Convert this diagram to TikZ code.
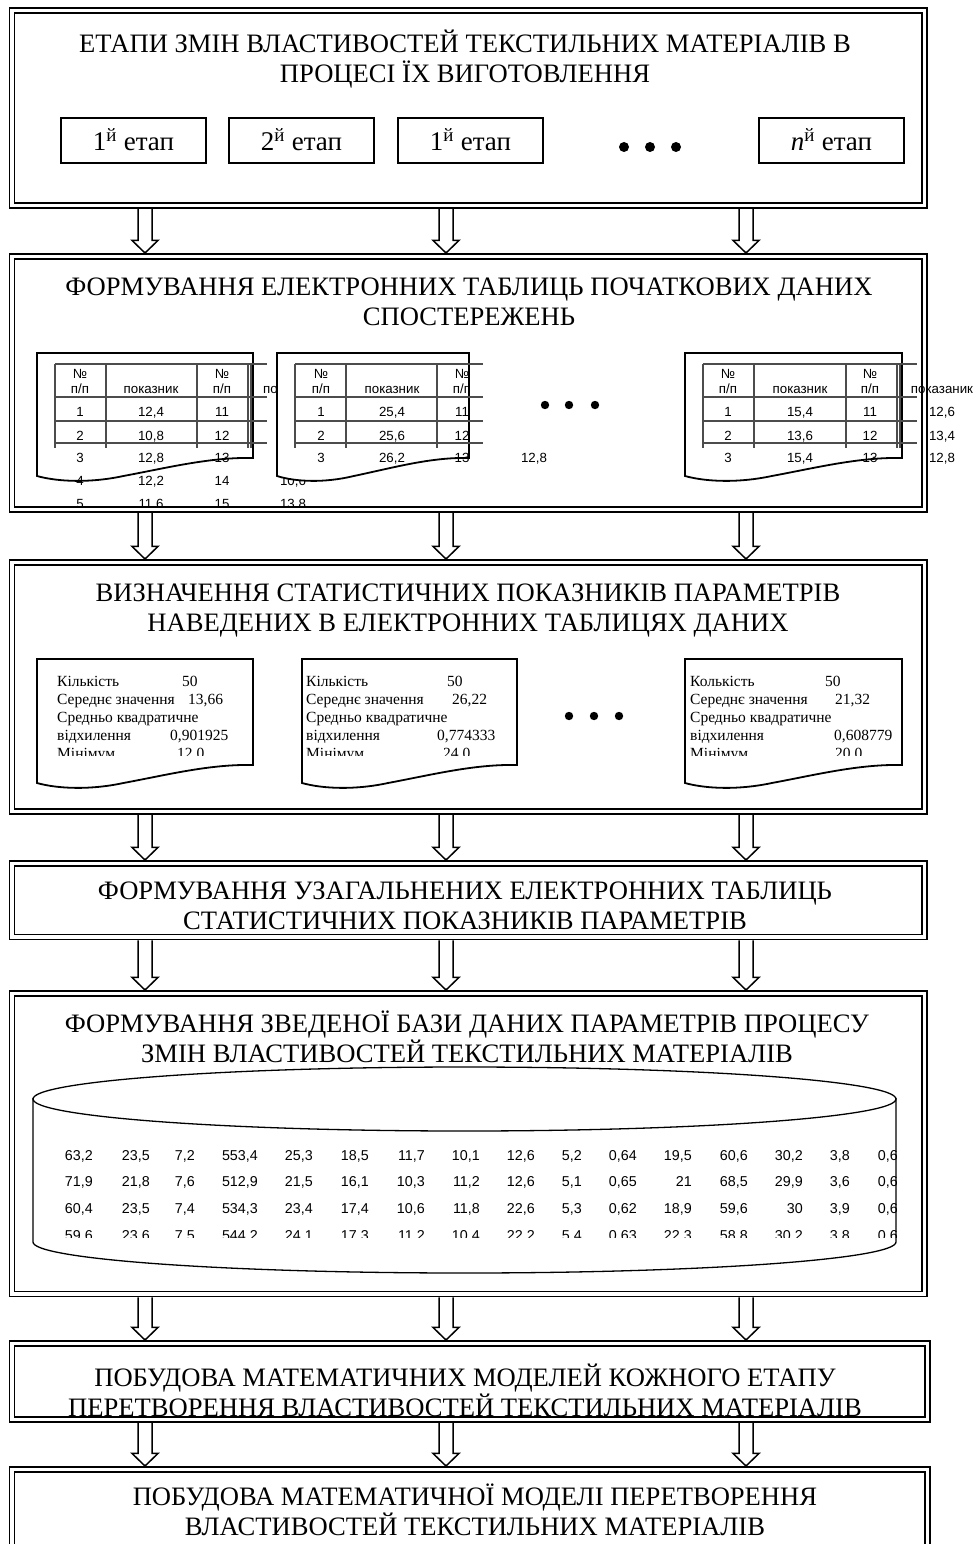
\documentclass[tikz,border=0pt]{standalone}
\usepackage{fontspec}
\setmainfont{Liberation Serif}
\newfontfamily\sansf{Liberation Sans}
\usetikzlibrary{calc}
\newcommand\docsheet[4]{%
  \path[sheet] (#1,#3) -- (#2,#3) -- (#2,#4)
    .. controls ({#2-0.2*(#2-#1)},{#4-1}) and ({#1+0.6*(#2-#1)},{#4+10}) .. ({#1+0.4*(#2-#1)},{#4+18})
    .. controls ({#1+0.25*(#2-#1)},{#4+25}) and ({#1+0.1*(#2-#1)},{#4+24}) .. (#1,{#4+18}) -- cycle;}
\def\dbcols{{93,150,195,258,313,369,425,480,535,582,637,692,748,803,850,906}}
\begin{document}
\begin{tikzpicture}[x=1pt,y=-1pt,
  bigbox/.style={draw, double, double distance=3.2pt, line width=1.8pt, inner sep=0pt, outer sep=0pt, anchor=north west},
  stagebox/.style={draw, line width=1.8pt, minimum width=145pt, minimum height=45pt, inner sep=0pt,
    font=\fontsize{27}{30}\selectfont, text height=20pt, text depth=0pt},
  titletext/.style={align=center, font=\fontsize{26.6}{30}\selectfont, inner sep=0pt, anchor=base},
  sheet/.style={draw, line width=1.8pt, fill=white, line join=miter},
  tgrid/.style={draw=black!70, line width=1.1pt},
  tcell/.style={font=\sansf\fontsize{13.3}{14}\selectfont, inner sep=0pt, anchor=base},
  statline/.style={font=\fontsize{15.5}{18}\selectfont, inner sep=0pt, anchor=base west},
  dbnum/.style={font=\sansf\fontsize{14.3}{15}\selectfont, inner sep=0pt, anchor=base east},
  bigdot/.style={fill=black},
  blockarr/.style={draw, line width=1.5pt, to path={let \p1=(\tikztostart), \p2=(\tikztotarget) in
    (\x1-7pt,\y1-3.4pt) -- (\x1-7pt,\y2+16pt) -- (\x1-13pt,\y2+16pt) -- (\x1,\y2+3.4pt)
    -- (\x1+13pt,\y2+16pt) -- (\x1+7pt,\y2+16pt) -- (\x1+7pt,\y1-3.4pt)}}
]
\clip (0,0) rectangle (976,1544);
\fill[white] (0,0) rectangle (976,1544);
\coordinate (c1) at (145,0);
\coordinate (c2) at (446,0);
\coordinate (c3) at (746,0);

% ---------- main boxes
\node[bigbox, minimum width=912.6pt, minimum height=195.2pt] (b1) at (12,10.4) {};
\node[bigbox, minimum width=912.6pt, minimum height=253.2pt] (b2) at (12,256.4) {};
\node[bigbox, minimum width=912.6pt, minimum height=249.2pt] (b3) at (12,562.4) {};
\node[bigbox, minimum width=912.6pt, minimum height=73.6pt] (b4) at (12,863.4) {};
\node[bigbox, minimum width=912.6pt, minimum height=300.6pt] (b5) at (12,993.4) {};
\node[bigbox, minimum width=915.6pt, minimum height=76.2pt] (b6) at (12,1343.4) {};
\node[bigbox, minimum width=915.6pt, minimum height=150pt] (b7) at (12,1469.4) {};

% ---------- arrows
\foreach \a/\b in {b1/b2,b2/b3,b3/b4,b4/b5,b5/b6,b6/b7}
  \foreach \cc in {c1,c2,c3}
    \draw[blockarr] (\a.south -| \cc) to (\b.north -| \cc);

% ---------- box 1
\node[titletext] (t1) at (465,83) {ЕТАПИ ЗМІН ВЛАСТИВОСТЕЙ ТЕКСТИЛЬНИХ МАТЕРІАЛІВ В\\ПРОЦЕСІ ЇХ ВИГОТОВЛЕННЯ};
\node[stagebox] (s1) at (133.5,140.5) {1\textsuperscript{й} етап};
\node[stagebox] (s2) at (301.5,140.5) {2\textsuperscript{й} етап};
\node[stagebox] (s3) at (470.5,140.5) {1\textsuperscript{й} етап};
\node[stagebox] (s4) at (831.5,140.5) {\textit{n}\textsuperscript{й} етап};
\fill[bigdot] (624,147) circle (5pt) (650,147) circle (5pt) (676,147) circle (5pt);

% ---------- box 2
\node[titletext] (t2) at (469,325) {ФОРМУВАННЯ ЕЛЕКТРОННИХ ТАБЛИЦЬ ПОЧАТКОВИХ ДАНИХ\\СПОСТЕРЕЖЕНЬ};
% sheet 1
\docsheet{37}{253}{353}{458}
\begin{scope}
\clip (0,0) rectangle (976,506);
\draw[tgrid] (55,364) -- (267,364) (55,397) -- (267,397) (55,421) -- (267,421) (55,443) -- (267,443);
\draw[tgrid] (55,364) -- (55,448) (106,364) -- (106,448) (197,364) -- (197,448) (248,364) -- (248,448) (251,364) -- (251,448);
\node[tcell] (p1h1) at (80,378) {№};
\node[tcell] (p1h2) at (80,393) {п/п};
\node[tcell] (p1h3) at (151,393) {показник};
\node[tcell] (p1h4) at (222,378) {№};
\node[tcell] (p1h5) at (222,393) {п/п};
\node[tcell, anchor=base west] (p1h6) at (263,393) {по};
\node[tcell] (p1a1) at (80,416) {1};
\node[tcell] (p1a2) at (151,416) {12,4};
\node[tcell] (p1a3) at (222,416) {11};
\node[tcell] (p1b1) at (80,440) {2};
\node[tcell] (p1b2) at (151,440) {10,8};
\node[tcell] (p1b3) at (222,440) {12};
\node[tcell] (p1c1) at (80,462) {3};
\node[tcell] (p1c2) at (151,462) {12,8};
\node[tcell] (p1c3) at (222,462) {13};
\node[tcell] (p1d1) at (80,485) {4};
\node[tcell] (p1d2) at (151,485) {12,2};
\node[tcell] (p1d3) at (222,485) {14};
\node[tcell] (p1d4) at (293,485) {10,6};
\node[tcell] (p1e1) at (80,508) {5};
\node[tcell] (p1e2) at (151,508) {11,6};
\node[tcell] (p1e3) at (222,508) {15};
\node[tcell] (p1e4) at (293,508) {13,8};
\end{scope}
% sheet 2
\docsheet{277}{469}{353}{458}
\draw[tgrid] (295,364) -- (483,364) (295,397) -- (483,397) (295,421) -- (483,421) (295,443) -- (483,443);
\draw[tgrid] (295,364) -- (295,448) (346,364) -- (346,448) (437,364) -- (437,448);
\begin{scope}
\clip (277,353) rectangle (469,450);
\node[tcell] (p2h1) at (321,378) {№};
\node[tcell] (p2h2) at (321,393) {п/п};
\node[tcell] (p2h3) at (392,393) {показник};
\node[tcell] (p2h4) at (462,378) {№};
\node[tcell] (p2h5) at (462,393) {п/п};
\node[tcell] (p2a1) at (321,416) {1};
\node[tcell] (p2a2) at (392,416) {25,4};
\node[tcell] (p2a3) at (462,416) {11};
\node[tcell] (p2b1) at (321,440) {2};
\node[tcell] (p2b2) at (392,440) {25,6};
\node[tcell] (p2b3) at (462,440) {12};
\end{scope}
\node[tcell] (p2c1) at (321,462) {3};
\node[tcell] (p2c2) at (392,462) {26,2};
\node[tcell] (p2c3) at (462,462) {13};
\node[tcell] (p2c4) at (534,462) {12,8};
% dots
\fill[bigdot] (545,405) circle (4.2pt) (569,405) circle (4.2pt) (595,405) circle (4.2pt);
% sheet 3
\docsheet{685}{902}{353}{458}
\draw[tgrid] (703,364) -- (917,364) (703,397) -- (917,397) (703,421) -- (917,421) (703,443) -- (917,443);
\draw[tgrid] (703,364) -- (703,448) (754,364) -- (754,448) (846,364) -- (846,448) (897,364) -- (897,448) (900,364) -- (900,448);
\node[tcell] (p3h1) at (728,378) {№};
\node[tcell] (p3h2) at (728,393) {п/п};
\node[tcell] (p3h3) at (800,393) {показник};
\node[tcell] (p3h4) at (870,378) {№};
\node[tcell] (p3h5) at (870,393) {п/п};
\node[tcell] (p3h6) at (942,393) {показаник};
\node[tcell] (p3a1) at (728,416) {1};
\node[tcell] (p3a2) at (800,416) {15,4};
\node[tcell] (p3a3) at (870,416) {11};
\node[tcell] (p3a4) at (942,416) {12,6};
\node[tcell] (p3b1) at (728,440) {2};
\node[tcell] (p3b2) at (800,440) {13,6};
\node[tcell] (p3b3) at (870,440) {12};
\node[tcell] (p3b4) at (942,440) {13,4};
\node[tcell] (p3c1) at (728,462) {3};
\node[tcell] (p3c2) at (800,462) {15,4};
\node[tcell] (p3c3) at (870,462) {13};
\node[tcell] (p3c4) at (942,462) {12,8};

% ---------- box 3
\node[titletext] (t3) at (468,631) {ВИЗНАЧЕННЯ СТАТИСТИЧНИХ ПОКАЗНИКІВ ПАРАМЕТРІВ\\НАВЕДЕНИХ В ЕЛЕКТРОННИХ ТАБЛИЦЯХ ДАНИХ};
\docsheet{37}{253}{659}{765}
\begin{scope}
\clip (37,659) rectangle (253,755);
\node[statline] (qa1) at (57,686) {Кількість};
\node[statline] (qa1v) at (182,686) {50};
\node[statline] (qa2) at (57,704) {Середнє значення};
\node[statline] (qa2v) at (188,704) {13,66};
\node[statline] (qa3) at (57,722) {Средньо квадратичне};
\node[statline] (qa4) at (57,740) {відхилення};
\node[statline] (qa4v) at (170,740) {0,901925};
\node[statline] (qa5) at (57,758) {Мінімум};
\node[statline] (qa5v) at (177,758) {12,0};
\end{scope}
\docsheet{302}{517}{659}{765}
\begin{scope}
\clip (302,659) rectangle (517,755);
\node[statline] (qb1) at (306,686) {Кількість};
\node[statline] (qb1v) at (447,686) {50};
\node[statline] (qb2) at (306,704) {Середнє значення};
\node[statline] (qb2v) at (452,704) {26,22};
\node[statline] (qb3) at (306,722) {Средньо квадратичне};
\node[statline] (qb4) at (306,740) {відхилення};
\node[statline] (qb4v) at (437,740) {0,774333};
\node[statline] (qb5) at (306,758) {Мінімум};
\node[statline] (qb5v) at (443,758) {24,0};
\end{scope}
\fill[bigdot] (569,716) circle (4.2pt) (594,716) circle (4.2pt) (619,716) circle (4.2pt);
\docsheet{685}{902}{659}{765}
\begin{scope}
\clip (685,659) rectangle (902,755);
\node[statline] (qc1) at (690,686) {Колькість};
\node[statline] (qc1v) at (825,686) {50};
\node[statline] (qc2) at (690,704) {Середнє значення};
\node[statline] (qc2v) at (835,704) {21,32};
\node[statline] (qc3) at (690,722) {Средньо квадратичне};
\node[statline] (qc4) at (690,740) {відхилення};
\node[statline] (qc4v) at (834,740) {0,608779};
\node[statline] (qc5) at (690,758) {Мінімум};
\node[statline] (qc5v) at (835,758) {20,0};
\end{scope}

% ---------- box 4
\node[titletext] (t4) at (465,929) {ФОРМУВАННЯ УЗАГАЛЬНЕНИХ ЕЛЕКТРОННИХ ТАБЛИЦЬ\\СТАТИСТИЧНИХ ПОКАЗНИКІВ ПАРАМЕТРІВ};

% ---------- box 5
\node[titletext] (t5) at (467,1062) {ФОРМУВАННЯ ЗВЕДЕНОЇ БАЗИ ДАНИХ ПАРАМЕТРІВ ПРОЦЕСУ\\ЗМІН ВЛАСТИВОСТЕЙ ТЕКСТИЛЬНИХ МАТЕРІАЛІВ};
\draw[line width=1.3pt, fill=white] (33,1098) -- (33,1242) arc[start angle=180, end angle=360, x radius=431.5pt, y radius=31pt] -- (896,1098);
\draw[line width=1.3pt, fill=white] (464.5,1099) ellipse [x radius=431.5pt, y radius=32pt];
\begin{scope}
\clip (33,1132) rectangle (896,1237);
\foreach \v [count=\k] in {{63,2},{23,5},{7,2},{553,4},{25,3},{18,5},{11,7},{10,1},{12,6},{5,2},{0,64},{19,5},{60,6},{30,2},{3,8},{0,64}}
  {\pgfmathsetmacro\xx{\dbcols[\k-1]}\node[dbnum] (da\k) at (\xx,1160) {\v};}
\foreach \v [count=\k] in {{71,9},{21,8},{7,6},{512,9},{21,5},{16,1},{10,3},{11,2},{12,6},{5,1},{0,65},{21},{68,5},{29,9},{3,6},{0,65}}
  {\pgfmathsetmacro\xx{\dbcols[\k-1]}\node[dbnum] (db\k) at (\xx,1186) {\v};}
\foreach \v [count=\k] in {{60,4},{23,5},{7,4},{534,3},{23,4},{17,4},{10,6},{11,8},{22,6},{5,3},{0,62},{18,9},{59,6},{30},{3,9},{0,62}}
  {\pgfmathsetmacro\xx{\dbcols[\k-1]}\node[dbnum] (dc\k) at (\xx,1213) {\v};}
\foreach \v [count=\k] in {{59,6},{23,6},{7,5},{544,2},{24,1},{17,3},{11,2},{10,4},{22,2},{5,4},{0,63},{22,3},{58,8},{30,2},{3,8},{0,63}}
  {\pgfmathsetmacro\xx{\dbcols[\k-1]}\node[dbnum] (dd\k) at (\xx,1240) {\v};}
\end{scope}

% ---------- box 6, 7
\node[titletext] (t6) at (465,1416) {ПОБУДОВА МАТЕМАТИЧНИХ МОДЕЛЕЙ КОЖНОГО ЕТАПУ\\ПЕРЕТВОРЕННЯ ВЛАСТИВОСТЕЙ ТЕКСТИЛЬНИХ МАТЕРІАЛІВ};
\node[titletext] (t7) at (475,1535) {ПОБУДОВА МАТЕМАТИЧНОЇ МОДЕЛІ ПЕРЕТВОРЕННЯ\\ВЛАСТИВОСТЕЙ ТЕКСТИЛЬНИХ МАТЕРІАЛІВ};
\end{tikzpicture}
\end{document}
